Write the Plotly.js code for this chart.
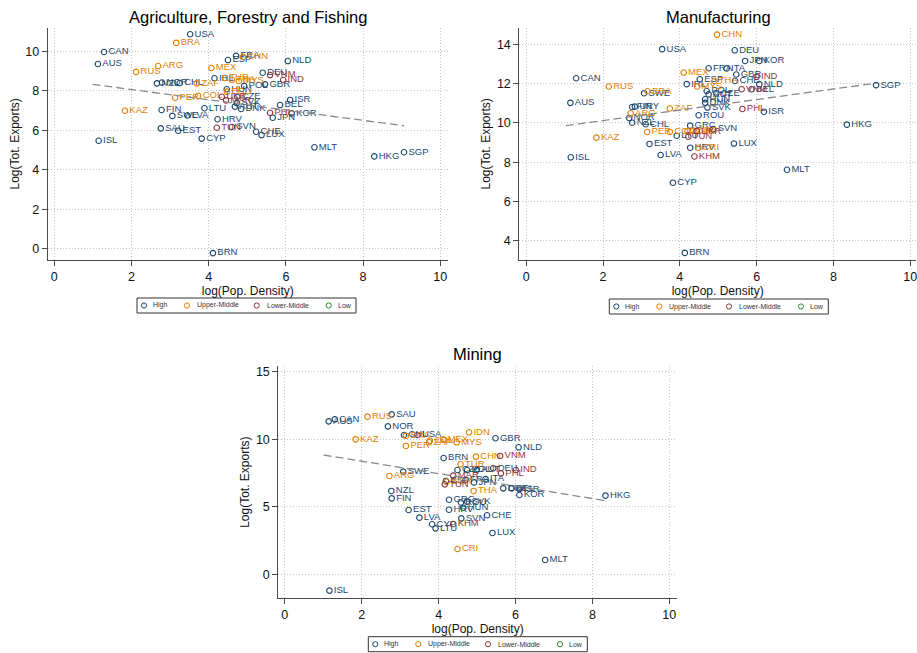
<!DOCTYPE html>
<html>
<head>
<meta charset="utf-8">
<script src="https://cdn.plot.ly/plotly-3.0.1.min.js"></script>
<style>
html,body{margin:0;padding:0;background:#ffffff;}
#chart{width:917px;height:653px;}
</style>
</head>
<body>
<div id="chart"></div>
<script>
// ---------------- DATA ----------------
const INCOME_NAMES = ['High', 'Upper-Middle', 'Lower-Middle', 'Low'];
const INCOME_KEYS = ['H', 'U', 'L', 'W'];
const xTicks = [0, 2, 4, 6, 8, 10];

// Agriculture, Forestry and Fishing
const agriCodes = ['USA','BRA','CAN','AUS','ARG','RUS','MEX','ESP','FRA','CHN','NLD','DEU','VNM','IND','GBR','ISR','BEL','PHL','KOR','JPN','CHE','LUX','SVN','TUN','HRV','CYP','MLT','HKG','SGP','BRN','ISL','KAZ','FIN','SWE','LVA','SAU','EST','NZL','NOR','CHL','ZAF','PER','COL','LTU','IRL','TUR','THA','MYS','HUN','POL','ECU','UKR','CZE','MAR','SVK','AUT','DNK'];
const agriX = [3.52,3.16,1.29,1.13,2.69,2.12,4.07,4.50,4.71,4.89,6.05,5.40,5.59,5.93,5.46,6.11,5.85,5.59,6.15,5.66,5.23,5.37,4.60,4.21,4.23,3.82,6.74,8.29,9.06,4.11,1.15,1.83,2.78,3.06,3.45,2.76,3.21,2.66,2.79,3.25,3.69,3.13,3.73,3.89,4.15,4.42,4.60,4.78,4.47,4.92,4.47,4.34,4.74,4.45,4.73,4.68,4.84];
const agriY = [10.87,10.43,9.97,9.36,9.26,8.96,9.16,9.56,9.77,9.72,9.51,8.92,8.80,8.55,8.33,7.54,7.28,6.89,6.86,6.64,5.93,5.76,6.17,6.13,6.56,5.58,5.14,4.68,4.89,-0.22,5.47,6.99,7.03,6.73,6.75,6.10,5.98,8.38,8.42,8.40,8.38,7.65,7.75,7.12,8.64,8.65,8.56,8.50,8.08,8.25,7.96,7.70,7.70,7.52,7.38,7.20,7.08];
const agriGroup = ['H','U','H','H','U','U','U','H','H','U','H','H','L','L','H','H','H','L','H','H','H','H','H','L','H','H','H','H','H','H','H','U','H','H','H','H','H','H','H','H','U','U','U','H','H','U','U','U','H','H','U','L','H','L','H','H','H'];
const agriFitX = [0.99, 9.06];
const agriFitY = [8.33, 6.23];
const agriYTicks = [0, 2, 4, 6, 8, 10];

// Manufacturing
const manuCodes = ['CHN','USA','DEU','JPN','KOR','FRA','ITA','MEX','GBR','IND','ESP','CHE','THA','IRL','MYS','POL','NLD','VNM','BEL','AUT','CZE','PHL','ISR','SGP','HKG','MLT','LUX','CAN','RUS','AUS','ISL','KAZ','BRA','SWE','FIN','URY','ARG','NOR','NZL','CHL','ZAF','PER','COL','EST','LVA','CYP','BRN','LTU','GRC','ROU','HRV','CRI','KHM','TUN','SVN','SRB','UKR','BGR','HUN','DNK','SVK'];
const manuX = [4.97,3.54,5.43,5.70,6.07,4.75,5.22,4.10,5.47,6.00,4.52,5.44,4.90,4.18,4.45,4.70,6.07,5.61,5.87,4.75,4.95,5.63,6.19,9.11,8.35,6.79,5.41,1.30,2.15,1.15,1.16,1.83,3.16,3.07,2.76,2.83,2.72,2.68,2.76,3.11,3.74,3.15,3.74,3.21,3.50,3.82,4.13,3.92,4.27,4.49,4.27,4.48,4.38,4.22,4.87,4.35,4.44,4.20,4.66,4.66,4.72];
const manuY = [14.49,13.75,13.69,13.15,13.15,12.78,12.77,12.56,12.46,12.34,12.22,12.13,12.13,11.97,11.85,11.62,11.97,11.71,11.71,11.45,11.50,10.71,10.57,11.92,9.91,7.62,8.95,12.27,11.85,11.02,8.25,9.25,11.61,11.51,10.81,10.83,10.49,10.25,10.01,9.93,10.73,9.54,9.54,8.93,8.37,6.96,3.39,9.35,9.86,10.39,8.74,8.74,8.29,9.30,9.69,9.61,9.58,9.58,11.20,11.02,10.78];
const manuGroup = ['U','H','H','H','H','H','H','U','H','L','H','H','U','H','U','H','H','L','H','H','H','L','H','H','H','H','H','H','U','H','H','U','U','H','H','H','U','H','H','H','U','U','U','H','H','H','H','H','H','H','H','U','L','L','H','U','L','U','H','H','H'];
const manuFitX = [1.03, 9.11];
const manuFitY = [9.86, 12.02];
const manuYTicks = [4, 6, 8, 10, 12, 14];

// Mining
const mineCodes = ['ISL','AUS','CAN','RUS','SAU','NOR','KAZ','CHL','BRA','USA','PER','ZAF','COL','MEX','MYS','IDN','GBR','NLD','BRN','CHN','VNM','TUR','DEU','IND','PHL','SWE','ARG','MAR','ITA','CZE','POL','AUT','ESP','TUN','BGR','FRA','JPN','THA','DNK','BEL','ISR','KOR','HKG','NZL','FIN','GRC','SVK','ROU','EST','HRV','HUN','CHE','SVN','LVA','CYP','LTU','KHM','LUX','CRI','MLT'];
const mineX = [1.16,1.14,1.30,2.15,2.78,2.68,1.84,3.10,3.15,3.45,3.15,3.75,3.77,4.12,4.47,4.79,5.48,6.08,4.13,4.97,5.60,4.57,5.42,6.01,5.62,3.08,2.72,4.38,5.22,4.49,4.74,4.99,4.19,4.16,4.21,4.70,4.92,4.91,5.68,5.90,6.10,6.10,8.34,2.77,2.78,4.27,4.74,4.58,3.22,4.27,4.64,5.26,4.59,3.50,3.83,3.92,4.38,5.40,4.49,6.77];
const mineY = [-1.21,11.32,11.47,11.67,11.84,10.95,9.99,10.31,10.26,10.31,9.50,9.77,9.89,9.99,9.77,10.51,10.07,9.40,8.61,8.71,8.76,8.14,7.85,7.72,7.47,7.60,7.28,7.30,7.05,7.72,7.72,7.72,6.91,6.66,6.85,7.00,6.80,6.17,6.36,6.36,6.30,5.87,5.82,6.17,5.62,5.52,5.38,5.31,4.76,4.78,4.93,4.37,4.14,4.19,3.70,3.40,3.72,3.06,1.87,1.06];
const mineGroup = ['H','H','H','U','H','H','U','H','U','H','U','U','U','U','U','U','H','H','H','U','L','U','H','L','L','H','U','L','H','H','H','H','H','L','U','H','H','U','H','H','H','H','H','H','H','H','H','H','H','H','H','H','H','H','H','H','L','H','U','H'];
const mineFitX = [1.01, 8.34];
const mineFitY = [8.83, 5.45];
const mineYTicks = [0, 5, 10, 15];

// ---------------- STYLE ----------------
const W = 917, H = 653;
const FONT = '"Liberation Sans", Arial, Helvetica, sans-serif';
const COLORS = ['#1a476f', '#e37e00', '#90353b', '#2a8a2a'];
const AXIS_COLOR = '#4a4a4a';
const GRID_COLOR = '#c4c4c4';

function panelTraces(codes, xs, ys, groups, fitX, fitY, xa, ya) {
  const out = [];
  INCOME_KEYS.forEach(function (k, gi) {
    const idx = [];
    groups.forEach(function (g, i) { if (g === k) idx.push(i); });
    if (!idx.length) return;
    out.push({
      type: 'scatter', mode: 'markers+text',
      x: idx.map(function (i) { return xs[i]; }),
      y: idx.map(function (i) { return ys[i]; }),
      text: idx.map(function (i) { return codes[i]; }),
      textposition: 'middle right',
      textfont: { family: FONT, size: 9.5, color: COLORS[gi] },
      marker: { symbol: 'circle-open', size: 5.5, color: COLORS[gi], line: { width: 1.1, color: COLORS[gi] } },
      name: INCOME_NAMES[gi], showlegend: false, cliponaxis: false,
      xaxis: xa, yaxis: ya, hoverinfo: 'text+x+y'
    });
  });
  out.push({
    type: 'scatter', mode: 'lines', x: fitX, y: fitY, xaxis: xa, yaxis: ya,
    line: { color: '#8a8a8a', width: 1.3, dash: '8px,4px' },
    showlegend: false, hoverinfo: 'skip', name: 'Fitted values'
  });
  return out;
}

const data = []
  .concat(panelTraces(agriCodes, agriX, agriY, agriGroup, agriFitX, agriFitY, 'x', 'y'))
  .concat(panelTraces(manuCodes, manuX, manuY, manuGroup, manuFitX, manuFitY, 'x2', 'y2'))
  .concat(panelTraces(mineCodes, mineX, mineY, mineGroup, mineFitX, mineFitY, 'x3', 'y3'));

function xAxis(domain, range, anchor) {
  return {
    domain: domain, range: range, anchor: anchor,
    tickvals: xTicks, ticktext: xTicks.map(String),
    showline: true, linecolor: AXIS_COLOR, linewidth: 1,
    ticks: 'outside', ticklen: 5, tickcolor: AXIS_COLOR, tickwidth: 1,
    showgrid: true, gridcolor: GRID_COLOR, griddash: '1px,2px', gridwidth: 1,
    zeroline: false, tickfont: { family: FONT, size: 12.5, color: '#111' },
    ticklabeloverflow: 'allow',
    title: { text: 'log(Pop. Density)', font: { family: FONT, size: 12, color: '#111' }, standoff: 2 },
    fixedrange: true
  };
}
function yAxis(domain, range, anchor, ticks) {
  return {
    domain: domain, range: range, anchor: anchor,
    tickvals: ticks, ticktext: ticks.map(String),
    showline: true, linecolor: AXIS_COLOR, linewidth: 1,
    ticks: 'outside', ticklen: 5, tickcolor: AXIS_COLOR, tickwidth: 1,
    showgrid: true, gridcolor: GRID_COLOR, griddash: '1px,2px', gridwidth: 1,
    zeroline: false, tickfont: { family: FONT, size: 12.5, color: '#111' },
    ticklabeloverflow: 'allow',
    title: { text: 'Log(Tot. Exports)', font: { family: FONT, size: 12, color: '#111' }, standoff: 3 },
    fixedrange: true
  };
}

const panelTitles = ['Agriculture, Forestry and Fishing', 'Manufacturing', 'Mining'];
const titlePos = [[248, 17], [718, 16.7], [477.6, 354]];
const annotations = panelTitles.map(function (t, i) {
  return {
    text: t, xref: 'paper', yref: 'paper', x: titlePos[i][0] / W, y: 1 - titlePos[i][1] / H,
    xanchor: 'center', yanchor: 'middle', showarrow: false,
    font: { family: FONT, size: 16.5, color: '#000' }
  };
});

// Legend boxes (one per panel), drawn as shapes + text
const legendBoxes = [[137, 298], [609.3, 299], [368.3, 636.7]];
const legendW = 219, legendH = 15;
const legendMarkerOff = [7, 50, 119.7, 191.7];
const legendTextOff = [14, 58, 128, 199];
const shapes = [];
legendBoxes.forEach(function (b) {
  shapes.push({
    type: 'rect', xref: 'paper', yref: 'paper',
    x0: b[0] / W, x1: (b[0] + legendW) / W, y0: 1 - (b[1] + legendH) / H, y1: 1 - b[1] / H,
    line: { color: '#333', width: 1 }, fillcolor: '#ffffff', layer: 'above'
  });
  INCOME_NAMES.forEach(function (name, gi) {
    const cy = 1 - (b[1] + legendH / 2) / H;
    shapes.push({
      type: 'circle', xref: 'paper', yref: 'paper', xsizemode: 'pixel', ysizemode: 'pixel',
      xanchor: (b[0] + legendMarkerOff[gi]) / W, yanchor: cy,
      x0: -2.6, x1: 2.6, y0: -2.6, y1: 2.6,
      line: { color: COLORS[gi], width: 1 }, layer: 'above'
    });
    annotations.push({
      text: name, xref: 'paper', yref: 'paper', x: (b[0] + legendTextOff[gi]) / W, y: cy,
      xanchor: 'left', yanchor: 'middle', showarrow: false,
      font: { family: FONT, size: 7, color: '#333' }
    });
  });
});

const layout = {
  width: W, height: H,
  margin: { l: 0, r: 0, t: 0, b: 0, pad: 0 },
  paper_bgcolor: '#ffffff', plot_bgcolor: '#ffffff',
  showlegend: false,
  font: { family: FONT },
  xaxis: xAxis([47.7 / W, 448 / W], [-0.17, 10.2], 'y'),
  yaxis: yAxis([1 - 260 / H, 1 - 27.7 / H], [-0.57, 11.2], 'x', agriYTicks),
  xaxis2: xAxis([519.3 / W, 916 / W], [-0.18, 10.15], 'y2'),
  yaxis2: yAxis([1 - 260 / H, 1 - 27.7 / H], [3.03, 14.84], 'x2', manuYTicks),
  xaxis3: xAxis([278.3 / W, 677 / W], [-0.17, 10.2], 'y3'),
  yaxis3: yAxis([1 - 598.3 / H, 1 - 366 / H], [-1.78, 15.42], 'x3', mineYTicks),
  annotations: annotations,
  shapes: shapes
};

Plotly.newPlot('chart', data, layout, { displayModeBar: false, staticPlot: true });
</script>
</body>
</html>
